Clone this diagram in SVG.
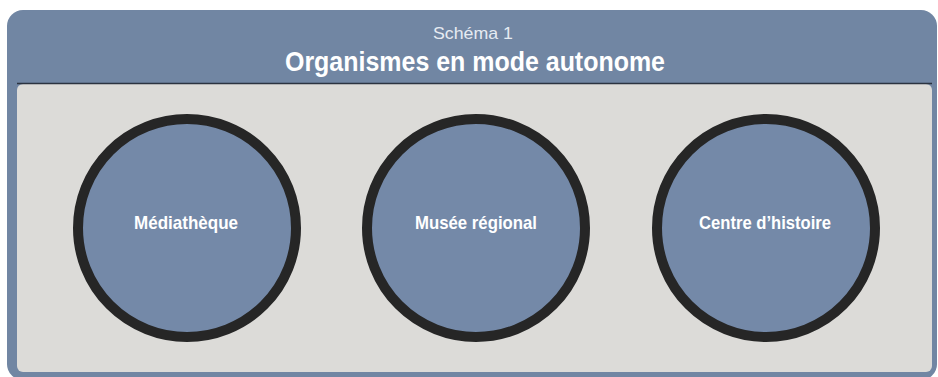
<svg xmlns="http://www.w3.org/2000/svg" width="938" height="377" viewBox="0 0 938 377">
<style>
.node circle{fill:#7489a8;stroke:#262626;stroke-width:10}
.lbl{font-family:"Liberation Sans",Arial,sans-serif;font-weight:bold;font-size:19px;fill:#ffffff;text-anchor:middle}
</style>
<rect x="0" y="0" width="938" height="377" fill="#ffffff"/>
<g id="frame">
<rect x="7" y="10" width="930" height="370" rx="16" fill="#7186a3"/>
<rect x="17" y="84" width="915" height="288" rx="6" fill="#dcdbd8"/>
<line x1="17" y1="83.5" x2="932" y2="83.5" stroke="#2b3340" stroke-width="1.5"/>
<text x="473" y="39" font-family="'Liberation Sans',Arial,sans-serif" font-size="17" fill="#e6ebf2" text-anchor="middle" textLength="80" lengthAdjust="spacingAndGlyphs">Schéma 1</text>
<text x="475" y="71" font-family="'Liberation Sans',Arial,sans-serif" font-size="28" font-weight="bold" fill="#ffffff" text-anchor="middle" textLength="380" lengthAdjust="spacingAndGlyphs">Organismes en mode autonome</text>
</g>
<g id="connectors"></g>
<g id="node-mediatheque" class="node">
<circle cx="187" cy="228" r="109"/>
<text class="lbl" x="186" y="229" textLength="104" lengthAdjust="spacingAndGlyphs">Médiathèque</text>
</g>
<g id="node-musee" class="node">
<circle cx="476" cy="228" r="109"/>
<text class="lbl" x="476" y="229" textLength="122" lengthAdjust="spacingAndGlyphs">Musée régional</text>
</g>
<g id="node-centre" class="node">
<circle cx="766" cy="228" r="109"/>
<text class="lbl" x="765" y="229" textLength="132" lengthAdjust="spacingAndGlyphs">Centre d’histoire</text>
</g>
</svg>
